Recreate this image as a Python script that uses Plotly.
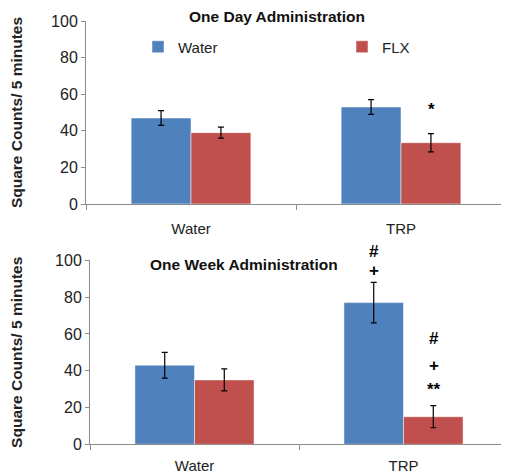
import plotly.graph_objects as go

categories = ["Water", "TRP"]
series_names = ["Water", "FLX"]
day_water = [47, 53]
day_water_err = [4, 4]
day_flx = [39, 33.5]
day_flx_err = [3, 5]
week_water = [43, 77]
week_water_err = [7, 11]
week_flx = [35, 15]
week_flx_err = [6, 6]
y_ticks = [0, 20, 40, 60, 80, 100]
y_range = [0, 100]
titles = ["One Day Administration", "One Week Administration"]
y_title = "Square Counts/ 5 minutes"
# significance marks: (panel, category, series, label, value)
marks = [
    (1, "TRP", "FLX", "*", 51.5),
    (2, "TRP", "Water", "#", 105),
    (2, "TRP", "Water", "+", 94.5),
    (2, "TRP", "FLX", "#", 57.5),
    (2, "TRP", "FLX", "+", 43),
    (2, "TRP", "FLX", "**", 30),
]

BLUE = "#4F81BD"
RED = "#C0504D"
FONT = "Liberation Sans"

fig = go.Figure()
def add_bars(vals, errs, name, color, xa, ya, show, leg):
    fig.add_trace(go.Bar(
        x=categories, y=vals, name=name, marker_color=color,
        marker_line=dict(color="rgba(255,255,255,0.5)", width=1),
        error_y=dict(type="data", array=errs, color="black", thickness=1.2, width=3),
        xaxis=xa, yaxis=ya, showlegend=show, legend=leg,
    ))

add_bars(day_water, day_water_err, series_names[0], BLUE, "x", "y", True, "legend")
add_bars(day_flx, day_flx_err, series_names[1], RED, "x", "y", True, "legend2")
add_bars(week_water, week_water_err, series_names[0], BLUE, "x2", "y2", False, "legend")
add_bars(week_flx, week_flx_err, series_names[1], RED, "x2", "y2", False, "legend2")

# page body has an 8px margin: figure is sized to fit the window
OFF = 8
W, H = 509 - OFF, 473 - OFF
def px(x):
    return (x - OFF) / W
def py(y):
    return 1 - (y - OFF) / H

axis_line = dict(showline=True, linecolor="#8c8c8c", linewidth=1, showgrid=False,
                 zeroline=False, automargin=False)
xcommon = dict(axis_line, ticks="outside", tickson="boundaries", ticklen=5,
               tickcolor="#8c8c8c",
               tickfont=dict(family=FONT, size=15, color="#222"))
ycommon = dict(axis_line, range=y_range, tickvals=y_ticks, ticks="outside", ticklen=4,
               tickcolor="#8c8c8c", tickfont=dict(family=FONT, size=16, color="#222"),
               title=dict(text="<b>" + y_title + "</b>", font=dict(family=FONT, size=15.5, color="#222"),
                          standoff=29))

legfont = dict(family=FONT, size=15, color="#222")
fig.update_layout(
    width=W, height=H, margin=dict(l=0, r=0, t=0, b=0),
    plot_bgcolor="white", paper_bgcolor="white",
    barmode="group", bargap=0.43, bargroupgap=0,
    xaxis=dict(xcommon, domain=[px(86), px(506)], anchor="y", ticklabelstandoff=11),
    yaxis=dict(ycommon, domain=[py(204), py(21)], anchor="x"),
    xaxis2=dict(xcommon, domain=[px(90), px(508)], anchor="y2", ticklabelstandoff=8),
    yaxis2=dict(ycommon, domain=[py(444.3), py(260.3)], anchor="x2"),
    legend=dict(x=px(138), y=py(47), xanchor="left", yanchor="middle",
                font=legfont, bgcolor="rgba(0,0,0,0)"),
    legend2=dict(x=px(342), y=py(47), xanchor="left", yanchor="middle",
                 font=legfont, bgcolor="rgba(0,0,0,0)"),
    showlegend=True,
)

fig.add_annotation(text="<b>" + titles[0] + "</b>", xref="paper", yref="paper",
                   x=px(277), y=py(16), showarrow=False, yanchor="middle",
                   font=dict(family=FONT, size=15.5, color="#111"))
fig.add_annotation(text="<b>" + titles[1] + "</b>", xref="paper", yref="paper",
                   x=px(244), y=py(264), showarrow=False, yanchor="middle",
                   font=dict(family=FONT, size=15.5, color="#111"))

span = y_range[1] - y_range[0]
for panel, cat, ser, label, val in marks:
    shift = -30 if ser == "Water" else 30
    sfx = "" if panel == 1 else "2"
    fig.add_annotation(text="<b>" + label + "</b>", x=cat, y=(val - y_range[0]) / span,
                       xref="x" + sfx, yref="y" + sfx + " domain",
                       xshift=shift, showarrow=False, yanchor="middle",
                       font=dict(family=FONT, size=17, color="black"))

fig.write_html("out.html")
